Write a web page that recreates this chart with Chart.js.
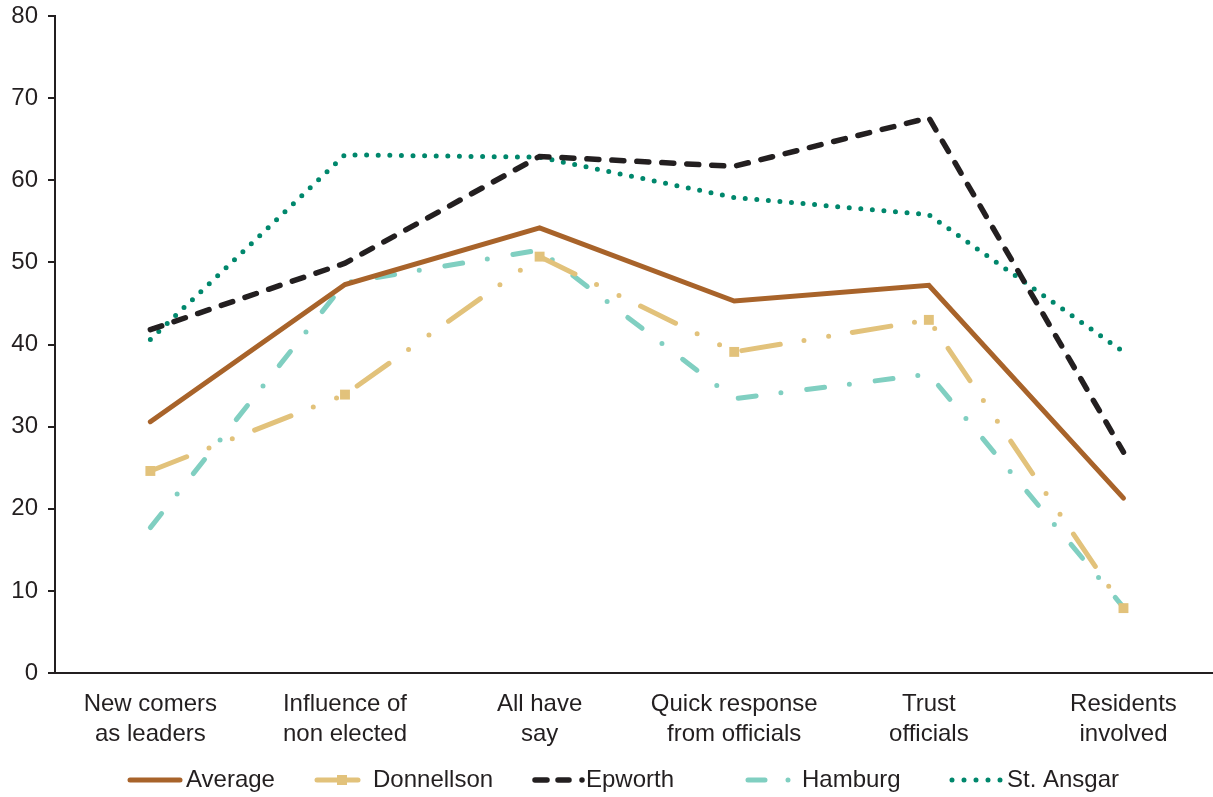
<!DOCTYPE html>
<html>
<head>
<meta charset="utf-8">
<script src="https://cdn.jsdelivr.net/npm/chart.js@4"></script>
<style>
  html, body { margin: 0; padding: 0; background: #fff; overflow: hidden; }
  #wrap { width: 1213px; height: 797px; }
</style>
</head>
<body>
<div id="wrap"><canvas id="chart"></canvas></div>
<script>
// categories (two-line tick labels)
const categories = [
  ['New comers', 'as leaders'],
  ['Influence of', 'non elected'],
  ['All have', 'say'],
  ['Quick response', 'from officials'],
  ['Trust', 'officials'],
  ['Residents', 'involved']
];

const average    = [30.6, 47.3, 54.2, 45.3, 47.2, 21.3];
const donnellson = [24.6, 33.9, 50.7, 39.1, 43.0, 7.9];
const epworth    = [41.8, 49.9, 62.9, 61.7, 67.6, 26.9];
const hamburg    = [17.7, 47.5, 51.5, 33.4, 36.4, 8.0];
const stAnsgar   = [40.6, 63.1, 62.8, 57.9, 55.8, 39.1];

const seriesNames = ['Average', 'Donnellson', 'Epworth', 'Hamburg', 'St. Ansgar'];

const ink = '#231F20';
const fontFam = '"Liberation Sans", Arial, sans-serif';

const styles = [
  { color: '#A8632A', width: 5, dash: [] },
  { color: '#E2C27B', width: 5, dash: [39, 24, 0, 25, 0, 24], marker: true },
  { color: '#231F20', width: 5.5, dash: [12, 13] },
  { color: '#80CFC1', width: 5, dash: [18, 25, 0, 26] },
  { color: '#00876C', width: 5, dash: [0, 11.6] }
];

const allSeries = [average, donnellson, epworth, hamburg, stAnsgar];

const datasets = allSeries.map((vals, s) => ({
  label: seriesNames[s],
  data: vals.map((v, i) => ({ x: i, y: v })),
  borderColor: styles[s].color,
  backgroundColor: styles[s].color,
  borderWidth: styles[s].width,
  borderDash: styles[s].dash,
  borderCapStyle: 'round',
  borderJoinStyle: 'miter',
  tension: 0,
  pointStyle: 'rect',
  pointRadius: styles[s].marker ? 7 : 0,
  pointBorderWidth: 0,
  pointHoverRadius: 0
}));

// legend drawn by hand so each sample line keeps its dash look
const legendItems = [
  { x0: 130, x1: 180, dash: [], textX: 186 },
  { x0: 317, x1: 358, dash: [], textX: 373, square: 342 },
  { x0: 535, x1: 584, dash: [12, 11, 11, 13, 0, 100], textX: 586 },
  { x0: 748, x1: 790, dash: [17, 23, 0, 100], textX: 802 },
  { x0: 952, x1: 1001, dash: [0, 12], textX: 1007 }
];

const legendPlugin = {
  id: 'handLegend',
  afterDraw(chart) {
    const ctx = chart.ctx;
    const y = 780;
    legendItems.forEach((it, s) => {
      ctx.save();
      ctx.strokeStyle = styles[s].color;
      ctx.lineWidth = styles[s].width;
      ctx.lineCap = 'round';
      ctx.setLineDash(it.dash);
      ctx.beginPath();
      ctx.moveTo(it.x0, y);
      ctx.lineTo(it.x1, y);
      ctx.stroke();
      if (it.square) {
        ctx.fillStyle = styles[s].color;
        ctx.fillRect(it.square - 5, y - 5, 10, 10);
      }
      ctx.setLineDash([]);
      ctx.fillStyle = ink;
      ctx.font = '24px ' + fontFam;
      ctx.textBaseline = 'middle';
      ctx.textAlign = 'left';
      ctx.fillText(seriesNames[s], it.textX, y);
      ctx.restore();
    });
  }
};

new Chart(document.getElementById('chart'), {
  type: 'line',
  data: { datasets: datasets },
  plugins: [legendPlugin],
  options: {
    responsive: true,
    maintainAspectRatio: false,
    animation: false,
    layout: { autoPadding: false, padding: { left: 11, right: 0, top: 16, bottom: 40 } },
    plugins: {
      legend: { display: false },
      tooltip: { enabled: false }
    },
    scales: {
      x: {
        type: 'linear',
        min: -0.49,
        max: 5.46,
        afterFit(scale) { scale.paddingLeft = 0; scale.paddingRight = 0; },
        ticks: {
          stepSize: 1,
          includeBounds: false,
          autoSkip: false,
          maxRotation: 0,
          padding: 8,
          color: ink,
          font: { family: fontFam, size: 24, lineHeight: 1.25 },
          callback: v => Number.isInteger(v) && categories[v] ? categories[v] : ''
        },
        grid: { display: false },
        border: { display: true, color: ink, width: 2 }
      },
      y: {
        min: 0,
        max: 80,
        afterFit(scale) { scale.width = 44; scale.paddingTop = 0; scale.paddingBottom = 0; },
        ticks: {
          stepSize: 10,
          padding: 10,
          color: ink,
          font: { family: fontFam, size: 24 }
        },
        grid: { drawOnChartArea: false, drawTicks: true, tickLength: 7, color: ink, lineWidth: 2 },
        border: { display: true, color: ink, width: 2 }
      }
    }
  }
});
</script>
</body>
</html>
